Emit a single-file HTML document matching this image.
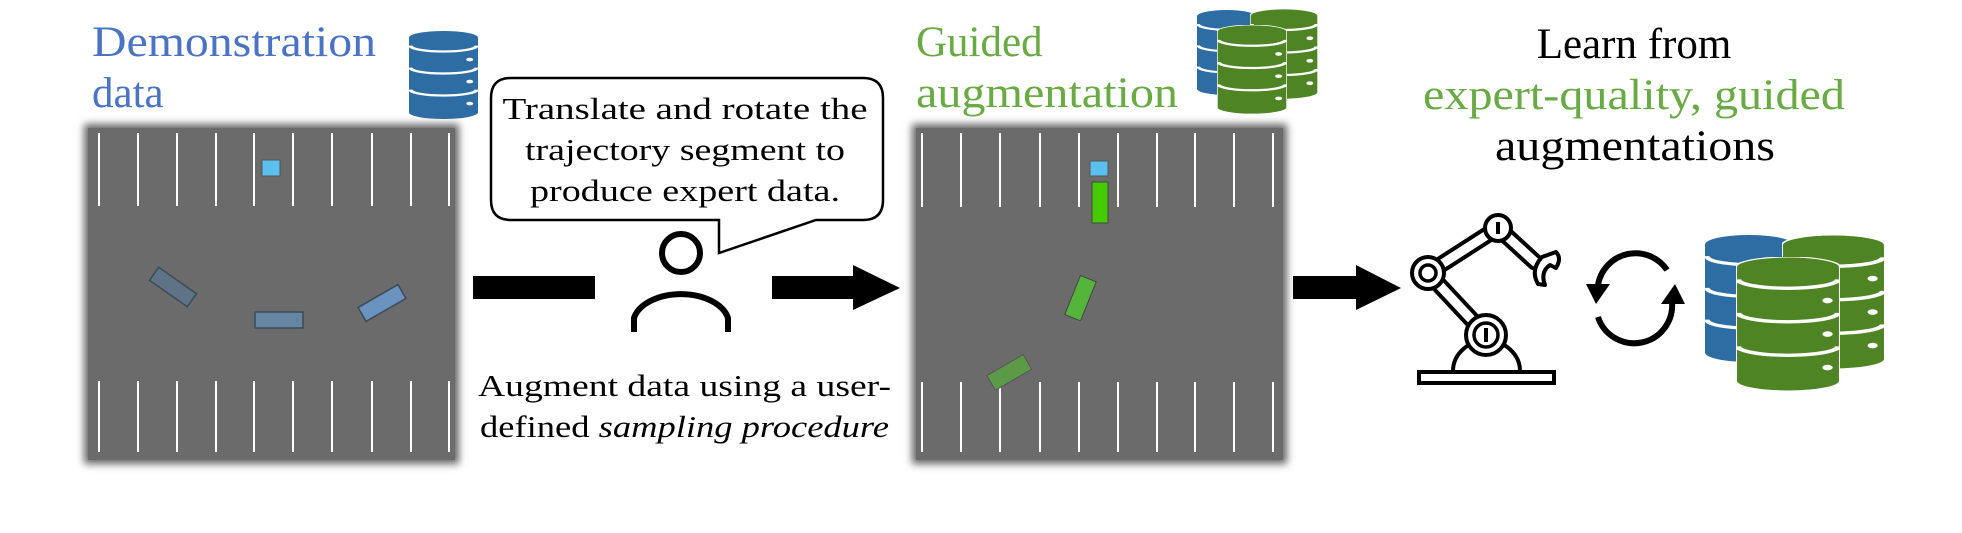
<!DOCTYPE html>
<html><head><meta charset="utf-8"><style>
html,body{margin:0;padding:0;background:#fff;}
svg{display:block;}
text{font-family:"Liberation Serif","DejaVu Serif","Times New Roman",serif;}
</style></head><body>
<svg width="1962" height="533" viewBox="0 0 1962 533" xmlns="http://www.w3.org/2000/svg" font-family="Liberation Serif, DejaVu Serif, serif">
<defs>
<filter id="sh" x="-10%" y="-10%" width="120%" height="120%"><feGaussianBlur stdDeviation="4"/></filter>
<symbol id="dbB" viewBox="0 0 100 240" preserveAspectRatio="none">
 <path d="M0 18 A50 18 0 0 1 100 18 L100 222 A50 18 0 0 1 0 222 Z" fill="#2e6da4"/>
 <path d="M2 40 A48 16 0 0 0 98 40 M2 100 A48 16 0 0 0 98 100 M2 160 A48 16 0 0 0 98 160" stroke="#fff" stroke-width="6" fill="none"/>
 <circle cx="88" cy="78" r="5" fill="#fff"/><circle cx="88" cy="138" r="5" fill="#fff"/><circle cx="88" cy="198" r="5" fill="#fff"/>
</symbol>
<symbol id="dbG" viewBox="0 0 100 240" preserveAspectRatio="none">
 <path d="M0 18 A50 18 0 0 1 100 18 L100 222 A50 18 0 0 1 0 222 Z" fill="#4e8423" stroke="#fff" stroke-width="2"/>
 <path d="M2 40 A48 16 0 0 0 98 40 M2 100 A48 16 0 0 0 98 100 M2 160 A48 16 0 0 0 98 160" stroke="#fff" stroke-width="6" fill="none"/>
 <circle cx="88" cy="78" r="5" fill="#fff"/><circle cx="88" cy="138" r="5" fill="#fff"/><circle cx="88" cy="198" r="5" fill="#fff"/>
</symbol>
</defs>

<!-- Titles -->
<text x="92" y="56" font-size="43" fill="#4a73c4" textLength="284" lengthAdjust="spacingAndGlyphs">Demonstration</text>
<text x="92" y="107" font-size="43" fill="#4a73c4">data</text>
<use href="#dbB" x="409" y="31" width="69" height="88"/>

<!-- Left panel -->
<rect x="84" y="124" width="375" height="340" fill="#666" filter="url(#sh)"/>
<rect x="88" y="128" width="367" height="332" fill="#6b6b6b"/>
<g stroke="#fff" stroke-width="2">
 <path d="M99 133V206M138 133V206M177 133V206M216 133V206M254 133V206M293 133V206M332 133V206M372 133V206M411 133V206M449 133V206"/>
 <path d="M99 381V452M138 381V452M177 381V452M216 381V452M254 381V452M293 381V452M332 381V452M372 381V452M411 381V452M449 381V452"/>
</g>
<rect x="262" y="160" width="18" height="16" fill="#5bc0f0" stroke="#555" stroke-width="1"/>
<g stroke="#3c4a58" stroke-width="1.5">
 <rect x="-23" y="-8" width="46" height="16" fill="#5e7385" transform="translate(173 287) rotate(35)"/>
 <rect x="-24" y="-8" width="48" height="16" fill="#6585a3" transform="translate(279 320)"/>
 <rect x="-23" y="-8" width="46" height="16" fill="#6a93bf" transform="translate(382 303) rotate(-30)"/>
</g>

<!-- Arrow bar 1 -->
<rect x="473" y="276" width="122" height="23" fill="#000"/>

<!-- Person -->
<circle cx="681" cy="253" r="19" fill="none" stroke="#000" stroke-width="6"/>
<path d="M634 332 V318 A48 30 0 0 1 728 318 V332" fill="none" stroke="#000" stroke-width="6"/>

<!-- Speech bubble -->
<path d="M511 78 H863 Q883 78 883 98 V200 Q883 220 863 220 H816 L719 253 L719 220 H511 Q491 220 491 200 V98 Q491 78 511 78 Z" fill="#fff" stroke="#000" stroke-width="2.5"/>
<text x="685" y="119" font-size="31" text-anchor="middle" textLength="365" lengthAdjust="spacingAndGlyphs">Translate and rotate the</text>
<text x="685" y="160" font-size="31" text-anchor="middle" textLength="320" lengthAdjust="spacingAndGlyphs">trajectory segment to</text>
<text x="685" y="201" font-size="31" text-anchor="middle" textLength="310" lengthAdjust="spacingAndGlyphs">produce expert data.</text>

<!-- Arrow 2 -->
<path d="M772 276 H853 V265 L900 288 L853 310 V299 H772 Z" fill="#000"/>

<text x="478" y="396" font-size="31" textLength="413" lengthAdjust="spacingAndGlyphs">Augment data using a user-</text>
<text x="480" y="437" font-size="31" textLength="409" lengthAdjust="spacingAndGlyphs">defined <tspan font-style="italic">sampling procedure</tspan></text>

<!-- Guided augmentation -->
<text x="916" y="56" font-size="43" fill="#6aaa44">Guided</text>
<text x="916" y="107" font-size="43" fill="#6aaa44" textLength="262" lengthAdjust="spacingAndGlyphs">augmentation</text>
<use href="#dbB" x="1197" y="10" width="59" height="85"/>
<use href="#dbG" x="1250" y="9" width="68" height="90"/>
<use href="#dbG" x="1217" y="25" width="70" height="89"/>

<!-- Middle panel -->
<rect x="912" y="124" width="375" height="340" fill="#666" filter="url(#sh)"/>
<rect x="916" y="128" width="367" height="332" fill="#6b6b6b"/>
<g stroke="#fff" stroke-width="2">
 <path d="M922 133V207M961 133V207M1000 133V207M1040 133V207M1079 133V207M1118 133V207M1157 133V207M1195 133V207M1234 133V207M1273 133V207"/>
 <path d="M922 382V452M961 382V452M1000 382V452M1040 382V452M1079 382V452M1118 382V452M1157 382V452M1195 382V452M1234 382V452M1273 382V452"/>
</g>
<rect x="1090" y="161" width="18" height="15" fill="#5bc0f0" stroke="#555" stroke-width="1"/>
<rect x="1092" y="182" width="16" height="41" fill="#44cc00" stroke="#444" stroke-width="1"/>
<rect x="-8" y="-21" width="17" height="42" fill="#55b43a" stroke="#444" stroke-width="1" transform="translate(1080 298) rotate(22)"/>
<rect x="-21" y="-8" width="42" height="17" fill="#5c9a48" stroke="#555" stroke-width="1" transform="translate(1009 372) rotate(-30)"/>

<!-- Arrow 3 -->
<path d="M1293 276 H1356 V265 L1401 288 L1356 310 V299 H1293 Z" fill="#000"/>

<!-- Learn from -->
<text x="1634" y="58" font-size="43" text-anchor="middle">Learn from</text>
<text x="1634" y="109" font-size="43" text-anchor="middle" fill="#6aaa44" textLength="422" lengthAdjust="spacingAndGlyphs">expert-quality, guided</text>
<text x="1635" y="160" font-size="43" text-anchor="middle" textLength="280" lengthAdjust="spacingAndGlyphs">augmentations</text>

<!-- Robot arm -->
<g fill="none" stroke="#000" stroke-linecap="round">
 <path d="M1453 371 A33 30 0 0 1 1520 371" stroke-width="4" fill="#fff"/>
 <path d="M1486 335 L1428 273 L1498 228 L1535 262" stroke-width="17"/>
 <path d="M1486 335 L1428 273 L1498 228 L1535 262" stroke="#fff" stroke-width="9"/>
</g>
<rect x="1419" y="372" width="135" height="11" fill="#fff" stroke="#000" stroke-width="4"/>
<circle cx="1428" cy="273" r="16" fill="#fff" stroke="#000" stroke-width="4"/>
<circle cx="1428" cy="273" r="8" fill="#fff" stroke="#000" stroke-width="3.5"/>
<circle cx="1486" cy="335" r="20" fill="#fff" stroke="#000" stroke-width="4"/>
<circle cx="1486" cy="335" r="12" fill="#fff" stroke="#000" stroke-width="3.5"/>
<rect x="1484" y="328" width="4" height="14" fill="#000"/>
<circle cx="1498" cy="228" r="13" fill="#fff" stroke="#000" stroke-width="4"/>
<rect x="1496" y="222" width="4" height="12" fill="#000"/>
<path d="M1542 257 Q1530 270 1538 284 L1545 285 Q1540 272 1550 265 L1556 268 Q1562 258 1556 252 Z" fill="#fff" stroke="#000" stroke-width="4" stroke-linejoin="round"/>

<!-- Cycle arrows -->
<path d="M1667 270 A38 38 0 0 0 1598 285" fill="none" stroke="#000" stroke-width="6"/>
<path d="M1586 284 L1610 284 L1596 304 Z" fill="#000"/>
<path d="M1598 317 A38 38 0 0 0 1672 302" fill="none" stroke="#000" stroke-width="6"/>
<path d="M1661 304 L1685 304 L1675 284 Z" fill="#000"/>

<!-- Big DB stack -->
<use href="#dbB" x="1705" y="235" width="88" height="127"/>
<use href="#dbG" x="1782" y="235" width="103" height="134"/>
<use href="#dbG" x="1736" y="257" width="104" height="134"/>
</svg>
</body></html>
